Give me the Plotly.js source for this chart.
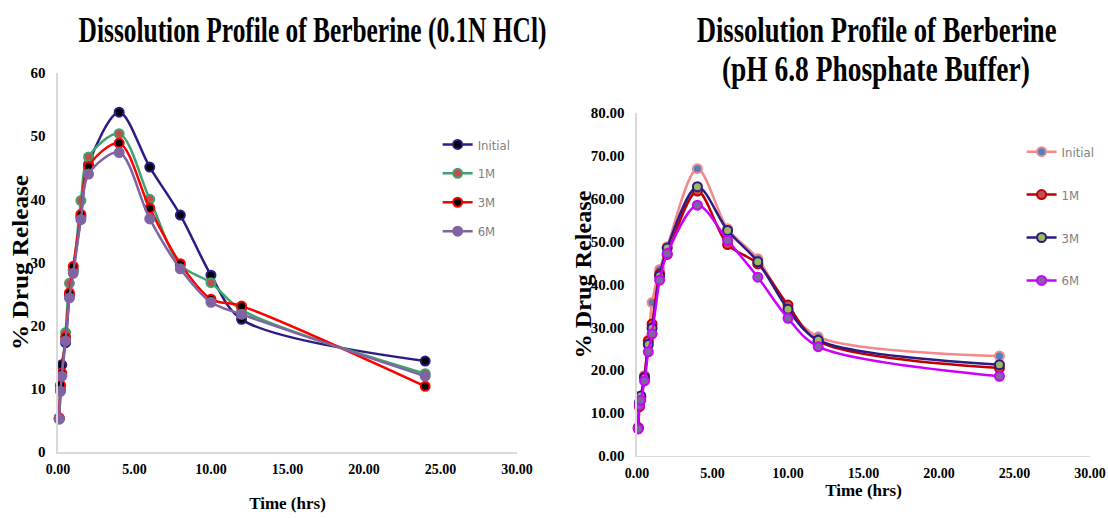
<!DOCTYPE html>
<html><head><meta charset="utf-8">
<script src="https://cdn.plot.ly/plotly-3.0.1.min.js"></script>
<style>html,body{margin:0;padding:0;background:#fff}#chart{width:1108px;height:518px}</style>
</head><body><div id="chart"></div>
<script>
// Time points (hrs)
const times = [0.083, 0.167, 0.25, 0.5, 0.75, 1, 1.5, 2, 4, 6, 8, 10, 12, 24];
const seriesNames = ['Initial', '1M', '3M', '6M'];

// 0.1N HCl (% drug release)
const hclInitial = [5.3, 9.8, 13.8, 17.3, 24.8, 28.8, 37.2, 45.5, 53.8, 45.1, 37.5, 28.0, 21.0, 14.4];
const hcl1M      = [5.3, 10.3, 12.2, 18.9, 26.7, 28.8, 39.8, 46.7, 50.4, 40.0, 29.6, 26.8, 22.5, 12.4];
const hcl3M      = [5.4, 10.6, 12.5, 18.2, 25.2, 29.4, 37.6, 45.2, 48.9, 38.6, 29.8, 24.2, 23.1, 10.4];
const hcl6M      = [5.2, 9.6, 12.0, 17.6, 24.4, 28.3, 36.8, 44.0, 47.4, 36.9, 29.0, 23.7, 21.8, 12.0];

// pH 6.8 phosphate buffer (% drug release)
const phInitial = [6.8, 12.0, 14.0, 18.8, 27.0, 35.8, 43.5, 48.8, 67.0, 53.0, 46.0, 34.5, 27.8, 23.3];
const ph1M      = [6.5, 11.5, 13.5, 18.5, 26.8, 30.8, 42.5, 47.0, 61.8, 49.3, 44.8, 35.2, 26.8, 20.5];
const ph3M      = [6.5, 12.5, 14.0, 18.2, 26.0, 29.8, 42.0, 48.5, 62.8, 52.6, 45.3, 34.2, 27.0, 21.3];
const ph6M      = [6.3, 11.8, 13.0, 17.5, 24.3, 28.5, 41.0, 47.2, 58.5, 50.3, 41.7, 32.1, 25.5, 18.6];

// Titles and labels
const titleLeft = 'Dissolution Profile of Berberine (0.1N HCl)';
const titleRight1 = 'Dissolution Profile of Berberine';
const titleRight2 = '(pH 6.8 Phosphate Buffer)';
const xTitle = 'Time (hrs)';
const yTitle = '% Drug Release';

const serif = 'Liberation Serif, "Times New Roman", serif';
const narrow = '"DejaVu Sans Condensed", "Liberation Sans Narrow", "Arial Narrow", "Liberation Sans", sans-serif';

function tr(name, y, xa, ya, lineColor, fill, outline, legend) {
  return {
    type: 'scatter', mode: 'lines+markers', x: times, y: y, name: name,
    xaxis: xa, yaxis: ya, legend: legend, legendgroup: legend + name, cliponaxis: false,
    line: {color: lineColor, width: 2.5, shape: 'spline', smoothing: 0.9},
    marker: {size: 9, color: fill, line: {color: outline, width: 2}}
  };
}

const data = [
  tr(seriesNames[0], hclInitial, 'x', 'y', '#2E1A87', '#000000', '#2E1A87', 'legend'),
  tr(seriesNames[1], hcl1M, 'x', 'y', '#3FA36F', '#C0504D', '#3FA36F', 'legend'),
  tr(seriesNames[2], hcl3M, 'x', 'y', '#FF0000', '#000000', '#FF0000', 'legend'),
  tr(seriesNames[3], hcl6M, 'x', 'y', '#8064A2', '#8064A2', '#8064A2', 'legend'),
  tr(seriesNames[0], phInitial, 'x2', 'y2', '#F4898B', '#4F81BD', '#F4898B', 'legend2'),
  tr(seriesNames[1], ph1M, 'x2', 'y2', '#C00000', '#C0504D', '#C00000', 'legend2'),
  tr(seriesNames[2], ph3M, 'x2', 'y2', '#2E1A87', '#9BBB59', '#2E1A87', 'legend2'),
  tr(seriesNames[3], ph6M, 'x2', 'y2', '#CC00FF', '#8064A2', '#CC00FF', 'legend2')
];

const tickFont = {family: serif, size: 15, color: '#000', weight: 'bold'};
const xTickFont = {family: serif, size: 14, color: '#000', weight: 'bold'};
const axTitleFont = {family: serif, size: 17, color: '#000', weight: 'bold'};
function xax(domain, anchor, standoff) {
  return {domain: domain, anchor: anchor, range: [0, 30], tick0: 0, dtick: 5, tickformat: '.2f',
    showline: true, linecolor: '#D9D9D9', linewidth: 1.5, showgrid: false, zeroline: false,
    ticks: '', tickfont: xTickFont, ticklabelstandoff: 4, ticklabeloverflow: 'allow',
    title: {text: xTitle, font: axTitleFont, standoff: standoff}};
}
function yax(domain, anchor, maxv, fmt, standoff) {
  return {domain: domain, anchor: anchor, range: [0, maxv], tick0: 0, dtick: 10, tickformat: fmt,
    showline: true, linecolor: '#D9D9D9', linewidth: 1.5, showgrid: false, zeroline: false,
    ticks: '', tickfont: tickFont, ticklabelstandoff: 8,
    title: {text: yTitle, font: Object.assign({}, axTitleFont, {size: 24}), standoff: standoff}};
}

const titleFont = {family: serif, size: 26, color: '#000', weight: 'bold'};
const layout = {
  width: 1108, height: 518, margin: {l: 0, r: 0, t: 0, b: 0},
  paper_bgcolor: '#fff', plot_bgcolor: '#fff', showlegend: true,
  xaxis: xax([0.0523, 0.4666], 'y', 21),
  yaxis: yax([0.1274, 0.8591], 'x', 60, 'd', 3),
  xaxis2: xax([0.5749, 0.9838], 'y2', 4),
  yaxis2: yax([0.1197, 0.7819], 'x2', 80, '.2f', 0),
  legend: {x: 0.395, y: 0.750, xanchor: 'left', yanchor: 'top', bgcolor: 'rgba(0,0,0,0)',
    font: {family: narrow, size: 13, color: '#7F7F7F'}, tracegroupgap: 9, itemwidth: 30},
  legend2: {x: 0.922, y: 0.736, xanchor: 'left', yanchor: 'top', bgcolor: 'rgba(0,0,0,0)',
    font: {family: narrow, size: 13, color: '#7F7F7F'}, tracegroupgap: 23, itemwidth: 30},
  annotations: [
    {text: titleLeft, xref: 'paper', yref: 'paper', x: 0.2816, y: 0.942, xanchor: 'center', yanchor: 'middle', showarrow: false, font: titleFont},
    {text: titleRight1, xref: 'paper', yref: 'paper', x: 0.7915, y: 0.942, xanchor: 'center', yanchor: 'middle', showarrow: false, font: titleFont},
    {text: titleRight2, xref: 'paper', yref: 'paper', x: 0.7906, y: 0.865, xanchor: 'center', yanchor: 'middle', showarrow: false, font: titleFont}
  ]
};

// target widths (px) of the condensed, tall title lines; vertical stretch factor
const titleWidths = {0: 468, 1: 360, 2: 308};
const titleStretch = 36 / 26;
Plotly.newPlot('chart', data, layout, {staticPlot: true}).then(function (gd) {
  gd.querySelectorAll('g.annotation').forEach(function (g) {
    const idx = g.getAttribute('data-index');
    const t = g.querySelector('text.annotation-text');
    if (t && titleWidths[idx]) {
      const bb = t.getBBox();
      const cx = bb.x + bb.width / 2, cy = bb.y + bb.height / 2;
      const sx = titleWidths[idx] / bb.width;
      const prev = t.getAttribute('transform') || '';
      t.setAttribute('transform', prev + ' translate(' + cx + ',' + cy + ') scale(' + sx + ',' + titleStretch + ') translate(' + (-cx) + ',' + (-cy) + ')');
    }
  });
  const yTitles = {'text.ytitle': {len: 175, dx: 7, dy: 0}, 'text.y2title': {len: 168, dx: 8, dy: -10}};
  Object.keys(yTitles).forEach(function (sel) {
    const t = gd.querySelector(sel);
    const o = yTitles[sel];
    if (t) {
      t.setAttribute('textLength', o.len);
      t.setAttribute('lengthAdjust', 'spacingAndGlyphs');
      const prev = t.getAttribute('transform') || '';
      t.setAttribute('transform', 'translate(' + o.dx + ',' + o.dy + ') ' + prev);
    }
  });
});
</script></body></html>
